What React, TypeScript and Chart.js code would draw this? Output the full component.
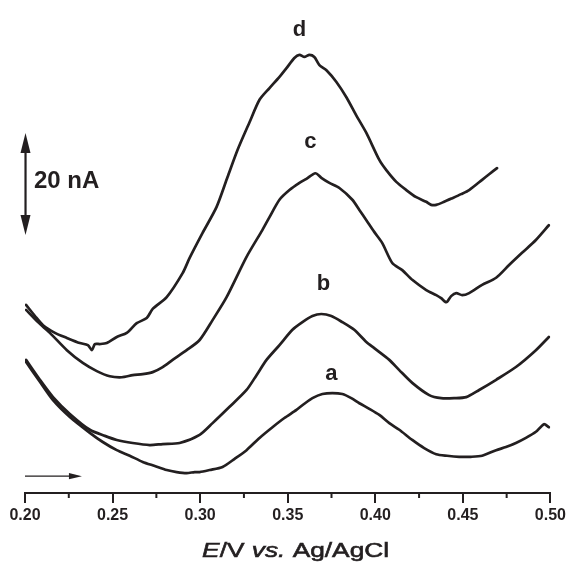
import React, { useEffect, useRef } from "react";
import { Chart, registerables } from "chart.js";

Chart.register(...registerables);

// ---- data (E in V, current in nA, offset for display) ----
const potA = [0.2006,0.2085,0.2160,0.2256,0.2370,0.2444,0.2524,0.2598,0.2672,0.2741,0.2809,0.2866,0.2923,0.2969,0.2997,0.3054,0.3128,0.3197,0.3265,0.3339,0.3413,0.3481,0.3550,0.3595,0.3641,0.3698,0.3755,0.3812,0.3863,0.3909,0.3966,0.4023,0.4080,0.4137,0.4211,0.4279,0.4348,0.4410,0.4479,0.4547,0.4610,0.4690,0.4746,0.4803,0.4860,0.4917,0.4963,0.4991];
const currA = [25.7,21.8,18.2,14.9,11.8,10.0,8.4,7.3,6.1,5.3,4.5,4.1,3.9,4.1,4.1,4.5,5.1,6.7,8.4,10.8,12.9,14.7,16.3,17.5,18.6,19.4,19.6,19.4,18.6,17.6,16.5,15.3,13.7,12.4,10.4,8.8,7.6,7.3,7.1,7.1,7.3,8.4,9.0,9.8,10.8,12.0,13.5,12.9];

const potB = [0.2006,0.2085,0.2160,0.2256,0.2370,0.2456,0.2524,0.2615,0.2712,0.2786,0.2883,0.2997,0.3071,0.3168,0.3265,0.3322,0.3379,0.3453,0.3527,0.3584,0.3641,0.3692,0.3749,0.3812,0.3880,0.3949,0.3994,0.4080,0.4137,0.4211,0.4308,0.4376,0.4450,0.4519,0.4593,0.4690,0.4803,0.4917,0.4991];
const currB = [26.1,22.2,18.8,15.5,12.4,11.2,10.4,9.8,9.4,9.6,9.8,11.4,13.7,16.9,20.2,23.1,26.1,29.0,32.0,33.5,34.7,35.1,34.7,33.5,32.0,29.6,28.4,26.1,24.1,21.6,19.2,18.6,18.6,18.8,20.2,22.2,24.7,28.0,30.6];

const potC = [0.2006,0.2074,0.2142,0.2239,0.2330,0.2410,0.2484,0.2553,0.2615,0.2672,0.2729,0.2786,0.2843,0.2923,0.2997,0.3071,0.3151,0.3265,0.3356,0.3396,0.3453,0.3510,0.3567,0.3607,0.3658,0.3692,0.3738,0.3795,0.3869,0.3909,0.3949,0.3994,0.4040,0.4097,0.4154,0.4211,0.4291,0.4348,0.4376,0.4399,0.4410,0.4433,0.4462,0.4496,0.4536,0.4610,0.4690,0.4764,0.4838,0.4917,0.4991];
const currC = [35.9,33.5,31.4,28.0,25.5,23.9,22.9,22.7,23.1,23.3,23.7,24.7,26.1,28.0,30.0,33.9,38.4,46.3,51.6,54.1,57.5,59.4,60.8,61.6,62.7,61.8,60.8,59.8,57.5,55.5,53.5,51.2,49.0,45.1,43.7,41.8,39.8,38.8,38.2,37.5,37.5,38.6,39.2,38.8,39.2,40.8,42.2,44.7,47.1,49.6,52.5];

const potD = [0.2006,0.2057,0.2103,0.2171,0.2239,0.2313,0.2359,0.2382,0.2399,0.2427,0.2467,0.2524,0.2581,0.2638,0.2695,0.2729,0.2809,0.2900,0.2940,0.3014,0.3094,0.3157,0.3214,0.3282,0.3339,0.3396,0.3453,0.3493,0.3538,0.3567,0.3595,0.3624,0.3652,0.3681,0.3721,0.3778,0.3835,0.3892,0.3949,0.4023,0.4063,0.4120,0.4177,0.4234,0.4291,0.4319,0.4348,0.4393,0.4439,0.4490,0.4536,0.4610,0.4650,0.4695];
const currD = [36.9,34.7,32.9,31.4,30.4,29.4,29.0,28.0,29.2,29.2,29.4,30.6,31.4,33.3,34.3,36.1,38.4,43.1,46.1,51.0,56.1,62.0,67.3,72.7,77.1,79.4,81.6,83.3,85.3,85.9,85.5,85.9,85.5,83.9,82.9,80.6,77.6,74.0,70.6,65.3,63.3,61.0,59.4,58.0,57.1,56.5,56.5,57.1,57.8,58.6,59.4,61.4,62.5,63.7];

const curveNames = ["a", "b", "c", "d"];
const labelPot = [0.3749, 0.3704, 0.3630, 0.3567];
const labelCurr = [22.2, 39.8, 67.6, 89.7];

const xTicksMinor = [0.225, 0.275, 0.325, 0.375, 0.425, 0.475];
const scaleBarPot = 0.2003;
const scaleBarFrom = 50.6;
const scaleBarSize = 20; // nA
const scaleBarText = "20 nA";
const scaleTextPot = 0.2051;
const scaleTextCurr = 59.8;
const sweepArrowFrom = 0.2;
const sweepArrowTo = 0.2325;
const sweepArrowCurr = 3.3;
const titleCenterPot = 0.3545;

const INK = "#231f20";
const FONT = '"Liberation Sans", Arial, Helvetica, sans-serif';

function pts(xs: number[], ys: number[]) {
  return xs.map((x, i) => ({ x, y: ys[i] }));
}

function arrowHead(ctx: CanvasRenderingContext2D, tx: number, ty: number, dx: number, dy: number, len: number, half: number) {
  const bx = tx - dx * len, by = ty - dy * len;
  ctx.beginPath();
  ctx.moveTo(tx, ty);
  ctx.lineTo(bx - dy * half, by + dx * half);
  ctx.lineTo(bx + dy * half, by - dx * half);
  ctx.closePath();
  ctx.fill();
}

const annotate = {
  id: "annotate",
  afterDraw(chart: any) {
    const { ctx, chartArea } = chart;
    const x = chart.scales.x, y = chart.scales.y;
    ctx.save();
    ctx.strokeStyle = INK;
    ctx.fillStyle = INK;
    // minor ticks
    ctx.lineWidth = 2;
    xTicksMinor.forEach((v) => {
      const px = x.getPixelForValue(v);
      ctx.beginPath();
      ctx.moveTo(px, chartArea.bottom);
      ctx.lineTo(px, chartArea.bottom + 5);
      ctx.stroke();
    });
    // curve letters
    ctx.font = `bold 22px ${FONT}`;
    ctx.textAlign = "center";
    ctx.textBaseline = "alphabetic";
    curveNames.forEach((n, i) => {
      ctx.fillText(n, x.getPixelForValue(labelPot[i]), y.getPixelForValue(labelCurr[i]));
    });
    // scale bar
    const sx = x.getPixelForValue(scaleBarPot);
    const y0 = y.getPixelForValue(scaleBarFrom);
    const y1 = y.getPixelForValue(scaleBarFrom + scaleBarSize);
    ctx.lineWidth = 2.2;
    ctx.beginPath();
    ctx.moveTo(sx, y0 - 12);
    ctx.lineTo(sx, y1 + 12);
    ctx.stroke();
    arrowHead(ctx, sx, y1, 0, -1, 20, 5);
    arrowHead(ctx, sx, y0, 0, 1, 20, 5);
    ctx.font = `bold 24px ${FONT}`;
    ctx.textAlign = "left";
    ctx.fillText(scaleBarText, x.getPixelForValue(scaleTextPot), y.getPixelForValue(scaleTextCurr));
    // sweep arrow
    const ax0 = x.getPixelForValue(sweepArrowFrom);
    const ax1 = x.getPixelForValue(sweepArrowTo);
    const ay = y.getPixelForValue(sweepArrowCurr);
    ctx.lineWidth = 1.3;
    ctx.beginPath();
    ctx.moveTo(ax0, ay);
    ctx.lineTo(ax1 - 8, ay);
    ctx.stroke();
    arrowHead(ctx, ax1, ay, 1, 0, 13, 3.2);
    // axis title with italic parts
    const parts: [string, boolean][] = [["E", true], ["/V ", false], ["vs.", true], [" Ag/AgCl", false]];
    const size = 21;
    let w = 0;
    parts.forEach(([t, it]) => {
      ctx.font = `${it ? "italic " : ""}${size}px ${FONT}`;
      w += ctx.measureText(t).width;
    });
    const targetW = 187;
    const k = targetW / w;
    const cx = x.getPixelForValue(titleCenterPot);
    ctx.translate(cx - targetW / 2, chartArea.bottom + 64);
    ctx.scale(k, 1);
    let pos = 0;
    ctx.textAlign = "left";
    ctx.lineWidth = 0.6;
    parts.forEach(([t, it]) => {
      ctx.font = `${it ? "italic " : ""}${size}px ${FONT}`;
      ctx.fillText(t, pos, 0);
      ctx.strokeText(t, pos, 0);
      pos += ctx.measureText(t).width;
    });
    ctx.restore();
  },
};

export default function App() {
  const ref = useRef<HTMLCanvasElement>(null);
  useEffect(() => {
    if (!ref.current) return;
    const mk = (xs: number[], ys: number[]) => ({
      data: pts(xs, ys),
      borderColor: INK,
      borderWidth: 2.7,
      pointRadius: 0,
      tension: 0.25,
      borderJoinStyle: "round" as const,
      borderCapStyle: "round" as const,
      fill: false,
    });
    const chart = new Chart(ref.current, {
      type: "line",
      data: {
        datasets: [mk(potA, currA), mk(potB, currB), mk(potC, currC), mk(potD, currD)],
      },
      options: {
        animation: false,
        responsive: false,
        devicePixelRatio: 1,
        layout: { padding: { left: 25, right: 17.5, top: 8.5, bottom: 0 } },
        plugins: { legend: { display: false }, tooltip: { enabled: false }, title: { display: false } },
        scales: {
          x: {
            type: "linear",
            min: 0.2,
            max: 0.5,
            afterFit: (s: any) => { s.height = 72; },
            border: { display: true, color: INK, width: 2 },
            grid: { display: true, drawOnChartArea: false, drawTicks: true, tickLength: 10, color: INK, lineWidth: 2 },
            ticks: {
              stepSize: 0.05,
              padding: 3,
              color: INK,
              font: { family: FONT, size: 16, weight: "bold" },
              maxRotation: 0,
              callback: (v: any) => Number(v).toFixed(2),
            },
          },
          y: {
            type: "linear",
            display: false,
            min: 0,
            max: 95,
          },
        },
      },
      plugins: [annotate],
    });
    return () => chart.destroy();
  }, []);
  return (
    <div style={{ position: "absolute", left: 0, top: 0, width: 569, height: 565, background: "#fff" }}>
      <canvas ref={ref} width={569} height={565} />
    </div>
  );
}
